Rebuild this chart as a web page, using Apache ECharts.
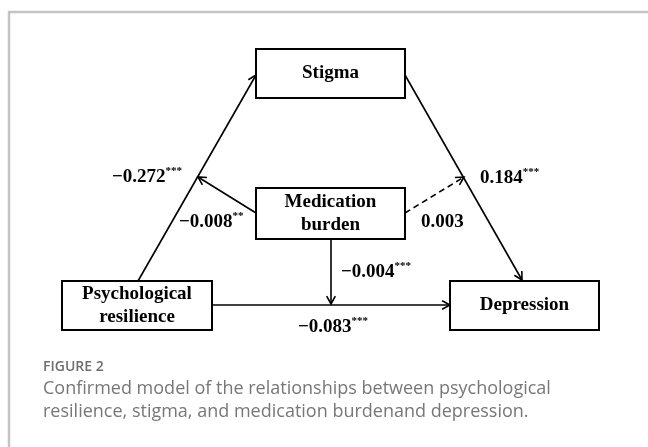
<!DOCTYPE html>
<html>
<head>
<meta charset="utf-8">
<script src="https://cdn.jsdelivr.net/npm/echarts@6/dist/echarts.min.js"></script>
<style>
html, body { margin: 0; padding: 0; background: #fff; }
#main { width: 648px; height: 447px; }
</style>
</head>
<body>
<div id="main"></div>
<script>
// node labels and path coefficients
var nodeNames = ['Psychological\nresilience', 'Stigma', 'Medication\nburden', 'Depression'];
var pathCoefs = ['\u22120.272', '0.184', '\u22120.008', '0.003', '\u22120.004', '\u22120.083'];
var pathStars = ['***', '***', '**', '', '***', '***'];
var captionHead = 'FIGURE 2';
var captionLines = [
  'Confirmed model of the relationships between psychological',
  'resilience, stigma, and medication burdenand depression.'
];

// layout (page pixels): boxes [x, y, w, h], arrows [x1, y1, x2, y2, dashed], label anchors [left, middle]
var boxes = [[62, 281, 150, 49], [256, 49, 149, 49], [256, 188, 149, 51], [450, 281, 149, 49]];
var arrows = [
  [138, 281, 256, 75, 0],
  [405, 75, 522, 280, 0],
  [256, 213, 198, 177, 0],
  [405, 213, 464, 177, 1],
  [331, 239, 331, 304, 0],
  [212, 305, 450, 305, 0]
];
var coefPos = [[112, 177], [480, 178], [179, 222], [421, 222], [341, 272], [298, 327]];

var serif = '"Liberation Serif", "Times New Roman", serif';
var ink = '#000';
var capFont = '"Open Sans", sans-serif';

var chart = echarts.init(document.getElementById('main'));

chart.setOption({
  backgroundColor: '#fff',
  animation: false,
  grid: { left: 0, right: 0, top: 0, bottom: 0 },
  xAxis: { type: 'value', min: 0, max: 648, show: false },
  yAxis: { type: 'value', min: 0, max: 447, inverse: true, show: false },
  graphic: [
    // outer figure frame (clipped on right/bottom)
    { type: 'rect', shape: { x: 9, y: 12, width: 700, height: 500 },
      style: { fill: null, stroke: '#c4c4c4', lineWidth: 2.5 }, silent: true },
    { type: 'text', x: 43, y: 367,
      style: { text: captionHead, font: '600 14px "Open Sans"', fill: '#6e6e6e', verticalAlign: 'middle' } },
    { type: 'text', x: 43, y: 389,
      style: { text: captionLines[0], font: '18px ' + capFont, fill: '#777', verticalAlign: 'middle' } },
    { type: 'text', x: 43, y: 412,
      style: { text: captionLines[1], font: '18px ' + capFont, fill: '#777', verticalAlign: 'middle' } }
  ],
  series: [
    {
      // paths with open arrowheads
      type: 'custom',
      coordinateSystem: 'cartesian2d',
      data: arrows,
      silent: true,
      renderItem: function (params, api) {
        var p1 = api.coord([api.value(0), api.value(1)]);
        var p2 = api.coord([api.value(2), api.value(3)]);
        var dashed = api.value(4) === 1;
        var ang = Math.atan2(p2[1] - p1[1], p2[0] - p1[0]);
        var L = 9, a = 0.5;
        var h1 = [p2[0] - L * Math.cos(ang - a), p2[1] - L * Math.sin(ang - a)];
        var h2 = [p2[0] - L * Math.cos(ang + a), p2[1] - L * Math.sin(ang + a)];
        return {
          type: 'group',
          children: [
            { type: 'line', shape: { x1: p1[0], y1: p1[1], x2: p2[0], y2: p2[1] },
              style: { stroke: ink, lineWidth: 1.6, lineDash: dashed ? [6, 4] : null } },
            { type: 'polyline', shape: { points: [h1, p2, h2] },
              style: { stroke: ink, lineWidth: 1.6, fill: null } }
          ]
        };
      }
    },
    {
      // variable boxes
      type: 'custom',
      coordinateSystem: 'cartesian2d',
      data: boxes.map(function (b, i) { return [b[0], b[1], b[2], b[3], i]; }),
      silent: true,
      renderItem: function (params, api) {
        var p = api.coord([api.value(0), api.value(1)]);
        var q = api.coord([api.value(0) + api.value(2), api.value(1) + api.value(3)]);
        var name = nodeNames[api.value(4)];
        return {
          type: 'group',
          children: [
            { type: 'rect', shape: { x: p[0], y: p[1], width: q[0] - p[0], height: q[1] - p[1] },
              style: { fill: '#fff', stroke: ink, lineWidth: 2 } },
            { type: 'text',
              style: { x: (p[0] + q[0]) / 2, y: (p[1] + q[1]) / 2, text: name,
                font: 'bold 19px ' + serif, fill: ink, align: 'center', verticalAlign: 'middle',
                lineHeight: 23 } }
          ]
        };
      }
    },
    {
      // coefficient labels
      type: 'custom',
      coordinateSystem: 'cartesian2d',
      data: coefPos.map(function (c, i) { return [c[0], c[1], i]; }),
      silent: true,
      renderItem: function (params, api) {
        var p = api.coord([api.value(0), api.value(1)]);
        var i = api.value(2);
        var txt = '{n|' + pathCoefs[i] + '}' + (pathStars[i] ? '{s|' + pathStars[i] + '}' : '');
        return {
          type: 'text',
          style: {
            x: p[0], y: p[1], text: txt, align: 'left', verticalAlign: 'middle',
            rich: {
              n: { font: 'bold 19px ' + serif, fill: ink, lineHeight: 22 },
              s: { font: 'bold 11px ' + serif, fill: ink, verticalAlign: 'top', lineHeight: 22 }
            }
          }
        };
      }
    }
  ]
});
</script>
</body>
</html>
